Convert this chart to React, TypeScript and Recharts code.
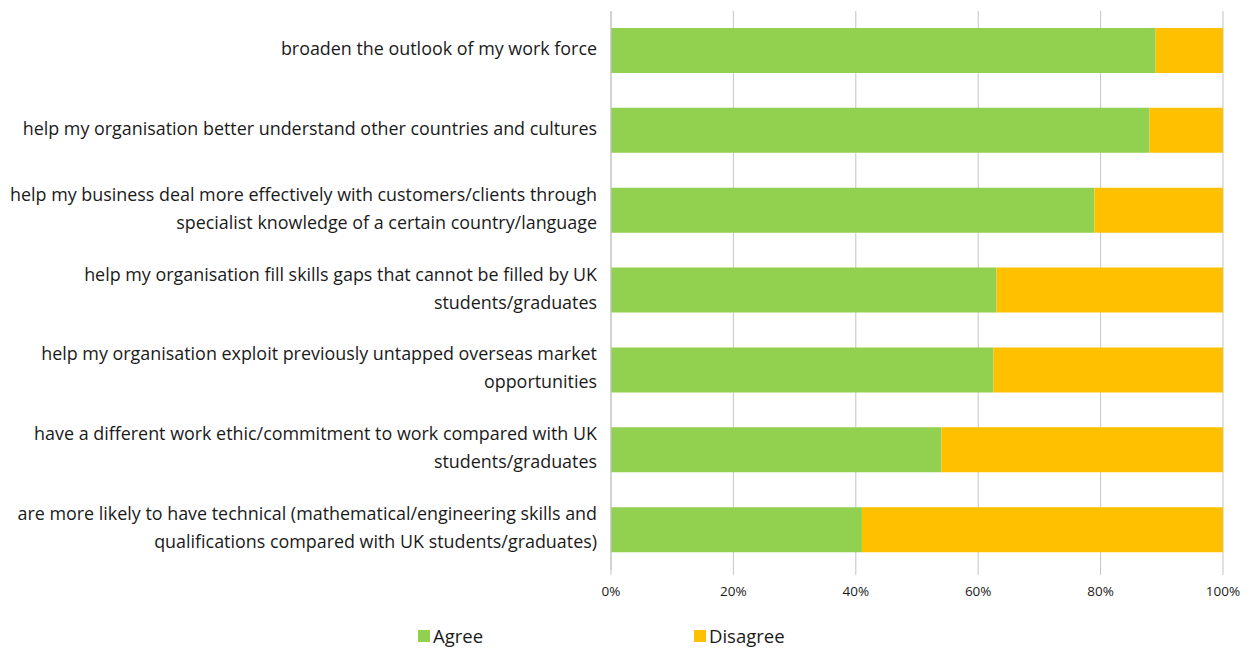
import { BarChart, Bar, XAxis, YAxis, CartesianGrid, Legend } from 'recharts'

// categories, top to bottom ("\n" marks the line break used in the original)
const categories = [
  'broaden the outlook of my work force',
  'help my organisation better understand other countries and cultures',
  'help my business deal more effectively with customers/clients through\nspecialist knowledge of a certain country/language',
  'help my organisation fill skills gaps that cannot be filled by UK\nstudents/graduates',
  'help my organisation exploit previously untapped overseas market\nopportunities',
  'have a different work ethic/commitment to work compared with UK\nstudents/graduates',
  'are more likely to have technical (mathematical/engineering skills and\nqualifications compared with UK students/graduates)',
]

const agree = [89, 88, 79, 63, 62.5, 54, 41]
const disagree = [11, 12, 21, 37, 37.5, 46, 59]

const xTicks = [0, 20, 40, 60, 80, 100]

const GREEN = '#92D050'
const AMBER = '#FFC000'
const FONT = '"Open Sans", Lato, sans-serif'

const data = categories.map((name, i) => ({
  name,
  agree: agree[i],
  disagree: disagree[i],
}))

// category label, right aligned, split on the line breaks
function CategoryTick(props: any) {
  const { x, y, payload } = props
  const lines = String(payload.value).split('\n')
  const lineH = 28
  const startY = y - ((lines.length - 1) * lineH) / 2
  return (
    <text x={x - 6} y={startY} textAnchor="end" fill="#1a1a1a" fontSize={17.9} fontFamily={FONT}>
      {lines.map((l, i) => (
        <tspan key={i} x={x - 6} dy={i === 0 ? 4 : lineH}>
          {l}
        </tspan>
      ))}
    </text>
  )
}

function LegendContent() {
  const items = [
    { label: 'Agree', color: GREEN, left: 418 },
    { label: 'Disagree', color: AMBER, left: 694 },
  ]
  return (
    <div style={{ position: 'relative', height: 26, fontFamily: FONT, fontSize: 18.5, color: '#1a1a1a' }}>
      {items.map((it) => (
        <div key={it.label} style={{ position: 'absolute', left: it.left, top: 0, display: 'flex', alignItems: 'center' }}>
          <span style={{ display: 'inline-block', width: 12, height: 12, background: it.color, marginRight: 3 }} />
          <span>{it.label}</span>
        </div>
      ))}
    </div>
  )
}

export default function App() {
  return (
    <div style={{ position: 'absolute', left: 0, top: 0, width: 1259, height: 651, background: '#fff' }}>
      <BarChart
        width={1259}
        height={651}
        data={data}
        layout="vertical"
        barSize={45}
        margin={{ top: 11, right: 36, bottom: 0, left: 0 }}
      >
        <CartesianGrid horizontal={false} stroke="#c4c4c4" />
        <XAxis
          type="number"
          domain={[0, 100]}
          ticks={xTicks}
          tickFormatter={(v) => `${v}%`}
          axisLine={false}
          tickLine={{ stroke: '#c4c4c4' }}
          tickSize={5}
          tickMargin={11}
          height={55}
          tick={{ fill: '#1a1a1a', fontSize: 13.5, fontFamily: FONT }}
        />
        <YAxis
          type="category"
          dataKey="name"
          width={611}
          axisLine={{ stroke: '#c4c4c4' }}
          tickLine={false}
          tick={<CategoryTick />}
          interval={0}
        />
        <Legend verticalAlign="bottom" content={<LegendContent />} wrapperStyle={{ left: 0, width: 1259, bottom: 2 }} />
        <Bar dataKey="agree" name="Agree" stackId="a" fill={GREEN} isAnimationActive={false} />
        <Bar dataKey="disagree" name="Disagree" stackId="a" fill={AMBER} isAnimationActive={false} />
      </BarChart>
    </div>
  )
}
